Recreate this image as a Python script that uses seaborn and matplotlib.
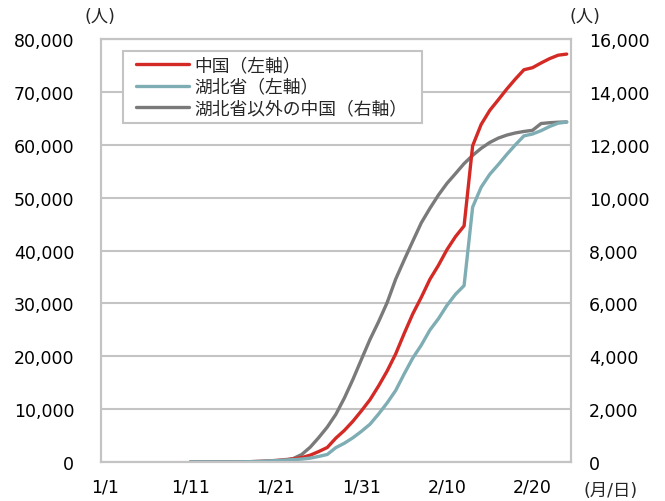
import matplotlib.pyplot as plt
import matplotlib.dates as mdates
import matplotlib.ticker as ticker
from matplotlib.lines import Line2D
from matplotlib.legend_handler import HandlerLine2D
from matplotlib.transforms import ScaledTranslation
import pandas as pd
import seaborn as sns

# 発表日ベース（1/11〜2/24）
dates = pd.date_range('2020-01-11', '2020-02-24', freq='D')
china = [41, 41, 41, 41, 41, 41, 45, 62, 121, 198,
         291, 440, 571, 830, 1287, 1975, 2744, 4515, 5974, 7711,
         9692, 11791, 14380, 17205, 20438, 24324, 28018, 31161, 34546, 37198,
         40171, 42638, 44653, 59804, 63851, 66492, 68500, 70548, 72436, 74185,
         74576, 75465, 76288, 76936, 77150]
hubei = [41, 41, 41, 41, 41, 41, 45, 62, 121, 198,
         270, 375, 444, 549, 729, 1052, 1423, 2714, 3554, 4586,
         5806, 7153, 9074, 11177, 13522, 16678, 19665, 22112, 24953, 27100,
         29631, 31728, 33366, 48206, 51986, 54406, 56249, 58182, 59989, 61682,
         62031, 62662, 63454, 64084, 64287]
# 湖北省以外（1/20〜2/24）
outside_dates = pd.date_range('2020-01-20', '2020-02-24', freq='D')
outside = [0, 21, 65, 127, 281, 558, 923, 1321, 1801, 2420, 3125,
           3886, 4638, 5306, 6028, 6916, 7646, 8353, 9049, 9593, 10098,
           10540, 10910, 11287, 11598, 11865, 12086, 12251, 12366, 12447, 12503,
           12545, 12803, 12834, 12852, 12863]

labels = ['中国（左軸）', '湖北省（左軸）', '湖北省以外の中国（右軸）']
colors = ['#d42a26', '#7fadb4', '#7a7a7a']

sns.set_theme(style='white')
plt.rcParams['font.family'] = ['DejaVu Sans', 'Noto Sans CJK JP']
jp = 'Noto Sans CJK JP'
edge = '#c4c4c4'

fig = plt.figure(figsize=(6.65, 5.02), dpi=100)
ax2 = fig.add_axes([0.1514, 0.0777, 0.7072, 0.8426])
ax = ax2.twinx()
ax2.set_zorder(1)
ax.set_zorder(2)
ax.patch.set_visible(False)

# Excelの「目盛の間」配置：各日の中央に点
half = pd.Timedelta(hours=12)
sns.lineplot(x=dates + half, y=china, ax=ax, color=colors[0], lw=2.4, label=labels[0])
sns.lineplot(x=dates + half, y=hubei, ax=ax, color=colors[1], lw=2.4, label=labels[1])
sns.lineplot(x=outside_dates + half, y=outside, ax=ax2, color=colors[2], lw=2.4, label=labels[2])

# 左軸(ax) を左側に、右軸(ax2) を右側に
ax.yaxis.tick_left()
ax.yaxis.set_label_position('left')
ax2.yaxis.tick_right()

ax.set_xlim(pd.Timestamp('2020-01-01'), pd.Timestamp('2020-02-25'))
ax.set_ylim(0, 80000)
ax2.set_ylim(0, 16000)
ax.set_yticks(range(0, 80001, 10000))
ax2.set_yticks(range(0, 16001, 2000))
ax.yaxis.set_major_formatter(ticker.StrMethodFormatter('{x:,.0f}'))
ax2.yaxis.set_major_formatter(ticker.StrMethodFormatter('{x:,.0f}'))
ax.tick_params(axis='y', length=0, pad=19, labelsize=12.5, colors='black')
ax2.tick_params(axis='y', length=0, pad=13, labelsize=12.5, colors='black')

ax2.set_xticks(pd.date_range('2020-01-01', '2020-02-20', freq='10D'))
ax2.set_xticks(pd.date_range('2020-01-06', '2020-02-25', freq='10D'), minor=True)
ax2.xaxis.set_major_formatter(mdates.DateFormatter('%-m/%-d'))
ax2.xaxis.set_minor_formatter(ticker.NullFormatter())
ax2.tick_params(axis='x', which='major', direction='inout', length=10, width=1.5,
                color=edge, pad=6, labelsize=12.5, labelcolor='black')
ax2.tick_params(axis='x', which='minor', direction='in', length=4, width=1.5, color=edge)
ax.tick_params(axis='x', which='both', length=0, labelbottom=False)

dx = 0.5 / 55 * 0.7072 * 6.65
for lab in ax2.get_xticklabels():
    lab.set_transform(lab.get_transform() + ScaledTranslation(dx, 0, fig.dpi_scale_trans))

for a in (ax, ax2):
    a.set_xlabel('')
    a.set_ylabel('')
ax2.yaxis.grid(True, color=edge, lw=1.5)
ax2.xaxis.grid(False)
ax.grid(False)
for a in (ax, ax2):
    for s in a.spines.values():
        s.set_color(edge)
        s.set_linewidth(1.5)

unit_font = ['DejaVu Sans', jp]
fig.text(100 / 665, 1 - 17 / 502, '(人)', ha='center', va='center', fontsize=12.5, family=unit_font)
fig.text(585 / 665, 1 - 17 / 502, '(人)', ha='center', va='center', fontsize=12.5, family=unit_font)
fig.text(611 / 665, 1 - 491 / 502, '(月/日)', ha='center', va='center', fontsize=12.5, family=unit_font)

h1, l1 = ax.get_legend_handles_labels()
h2, l2 = ax2.get_legend_handles_labels()
ax2.get_legend().remove()
leg = ax.legend(h1 + h2, l1 + l2, loc='upper left', bbox_to_anchor=(0.0468, 0.5, 0.636, 0.472),
                mode='expand', borderaxespad=0, fancybox=False, framealpha=1,
                edgecolor=edge, handlelength=3.43, handletextpad=0.28, labelspacing=0.2,
                borderpad=0.3, prop={'family': jp, 'size': 12.8},
                handler_map={Line2D: HandlerLine2D(xpad=0.45)})
leg.get_frame().set_linewidth(1.5)

fig.savefig('out.png', dpi=100)
